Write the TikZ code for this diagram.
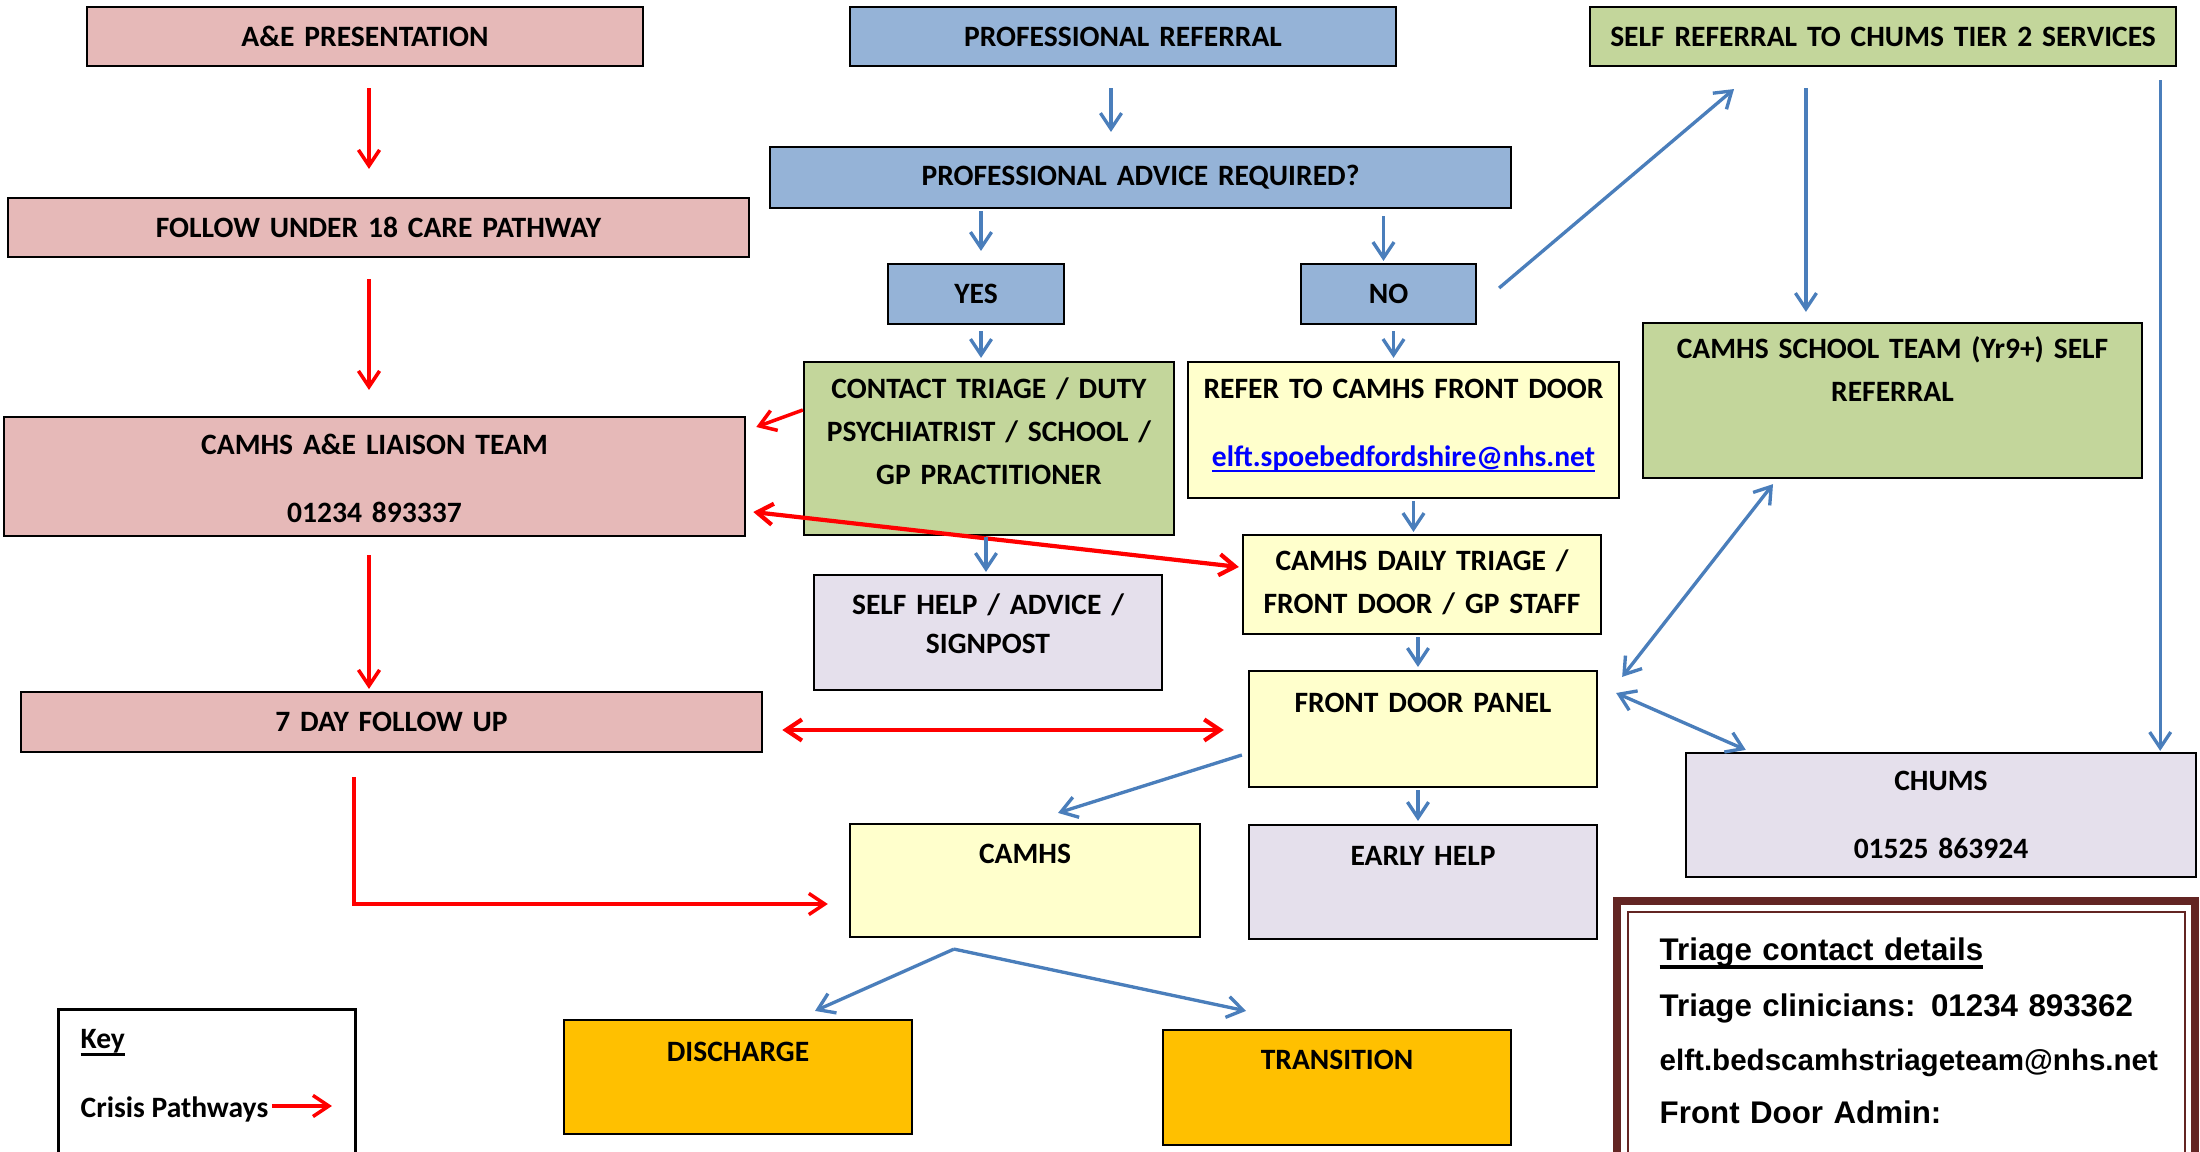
\documentclass[tikz,border=0pt]{standalone}
\usepackage{fontspec}
\setmainfont{Carlito}
\newfontfamily\arialfont{Liberation Sans}
\usetikzlibrary{arrows.meta}
\definecolor{aepink}{HTML}{E6B9B8}
\definecolor{refblue}{HTML}{95B3D7}
\definecolor{selfgreen}{HTML}{C3D69B}
\definecolor{doorcream}{HTML}{FFFFCC}
\definecolor{helplilac}{HTML}{E5E0EC}
\definecolor{outamber}{HTML}{FFC000}
\definecolor{arrowblue}{HTML}{4A7EBB}
\definecolor{framered}{HTML}{632523}
\definecolor{linkblue}{HTML}{0000FF}
\tikzstyle{pathbox}=[rectangle, draw=black, line width=0.6pt, inner xsep=0pt, inner ysep=0pt, align=center, font=\bfseries\fontsize{8.4}{12.2}\selectfont]
\tikzstyle{bluearrow}=[draw=arrowblue, line width=0.95pt]
\tikzstyle{crisis}=[draw=red, line width=1pt]
\newcommand{\pathbox}{\node[pathbox]}
% underline with a given drop and thickness
\newcommand{\barunder}[3]{\leavevmode\setbox0\hbox{#3}\rlap{\rule[#1]{\wd0}{#2}}\box0}

\begin{document}
\begin{tikzpicture}[x=0.01cm, y=-0.01cm, >={Straight Barb[length=4.5pt,width=6pt]}]
\useasboundingbox (0,0) rectangle (2200,1152);
% top row
\pathbox[fill=aepink, text width=5.56cm, minimum height=0.59cm] (ae) at (365,36.5) {A\&E PRESENTATION};
\pathbox[fill=refblue, text width=5.46cm, minimum height=0.59cm] (profref) at (1123,36.5) {PROFESSIONAL REFERRAL};
\pathbox[fill=selfgreen, text width=5.86cm, minimum height=0.59cm] (selfref) at (1883,36.5) {SELF REFERRAL TO CHUMS TIER 2 SERVICES};
\pathbox[fill=refblue, text width=7.41cm, minimum height=0.61cm] (advice) at (1140.5,177.5) {PROFESSIONAL ADVICE REQUIRED?};
\pathbox[fill=aepink, text width=7.41cm, minimum height=0.59cm] (follow) at (378.5,227.5) {FOLLOW UNDER 18 CARE PATHWAY};
\pathbox[fill=refblue, text width=1.76cm, minimum height=0.60cm] (yes) at (976,294) {YES};
\pathbox[fill=refblue, text width=1.75cm, minimum height=0.60cm] (no) at (1388.5,294) {NO};
% middle
\pathbox[fill=selfgreen, text width=3.70cm, text height=0.365cm, text depth=1.365cm] (contact) at (989,448.5)
  {CONTACT TRIAGE / DUTY\\PSYCHIATRIST / SCHOOL /\\GP PRACTITIONER};
\pathbox[fill=doorcream, text width=4.31cm, text height=0.365cm, text depth=0.995cm] (refer) at (1403.5,430)
  {REFER TO CAMHS FRONT DOOR\\[7pt]{\color{linkblue}\barunder{-1.6pt}{0.6pt}{elft.spoebedfordshire@nhs.net}}};
\pathbox[fill=selfgreen, text width=4.99cm, text height=0.355cm, text depth=1.195cm] (school) at (1892.5,400.5)
  {CAMHS SCHOOL TEAM (Yr9+) SELF\\REFERRAL};
\pathbox[fill=aepink, text width=7.41cm, text height=0.375cm, text depth=0.815cm] (liaison) at (374.5,476.5)
  {CAMHS A\&E LIAISON TEAM\\[7pt]01234 893337};
\pathbox[fill=helplilac, text width=3.48cm, text height=0.395cm, text depth=0.755cm] (selfhelp) at (988,632.5)
  {SELF HELP / ADVICE /\\[-1pt]SIGNPOST};
\pathbox[fill=doorcream, text width=3.58cm, text height=0.355cm, text depth=0.635cm] (daily) at (1422,584.5)
  {CAMHS DAILY TRIAGE /\\FRONT DOOR / GP STAFF};
\pathbox[fill=aepink, text width=7.41cm, minimum height=0.60cm] (sevenday) at (391.5,722) {7 DAY FOLLOW UP};
\pathbox[fill=doorcream, text width=3.48cm, text height=0.415cm, text depth=0.745cm] (fdp) at (1423,729) {FRONT DOOR PANEL};
\pathbox[fill=helplilac, text width=5.10cm, text height=0.375cm, text depth=0.865cm] (chums) at (1941,815)
  {CHUMS\\[7pt]01525 863924};
% bottom
\pathbox[fill=doorcream, text width=3.50cm, text height=0.40cm, text depth=0.73cm] (camhs) at (1025,880.5) {CAMHS};
\pathbox[fill=helplilac, text width=3.48cm, text height=0.405cm, text depth=0.735cm] (early) at (1423,882) {EARLY HELP};
\pathbox[fill=outamber, text width=3.48cm, text height=0.415cm, text depth=0.725cm] (discharge) at (738,1077) {DISCHARGE};
\pathbox[fill=outamber, text width=3.48cm, text height=0.40cm, text depth=0.75cm] (transition) at (1337,1087.5) {TRANSITION};

% key
\node[draw, line width=0.85pt, minimum width=2.97cm, minimum height=2cm, anchor=north west] (keybox) at (57,1008) {};
\node[anchor=base west, inner sep=0pt, font=\bfseries\fontsize{8.4}{12.2}\selectfont] (keytitle) at (80,1048) {\barunder{-2.2pt}{0.9pt}{Key}};
\node[anchor=base west, inner sep=0pt, font=\bfseries\fontsize{8.4}{12.2}\selectfont] (crisiskey) at (80,1117) {Crisis Pathways};
\draw[crisis,->] ([shift={(3,-3)}]crisiskey.east) -- ++(60,0);

% triage contact details
\draw[framered, line width=2.3pt] (1617,901) rectangle (2195,1200);
\draw[framered, line width=0.6pt] (1628,912) rectangle (2185,1200);
\node[anchor=base west, inner sep=0pt, text width=5.2cm, align=left, font=\arialfont\bfseries\fontsize{8.9}{15.2}\selectfont] (triage) at (1659,960)
  {\barunder{-2.6pt}{1.1pt}{Triage contact details}\\[1pt]
   Triage clinicians: 01234 893362\\
   {\fontsize{8.4}{15.2}\selectfont elft.bedscamhstriageteam@nhs.net}\\
   Front Door Admin:};

% crisis pathways
\draw[crisis,->,shorten <=0.21cm,shorten >=0.28cm] ([xshift=0.04cm]ae.south) -- ([xshift=0.04cm]ae.south |- follow.north);
\draw[crisis,->,shorten <=0.21cm,shorten >=0.26cm] ([xshift=0.04cm]ae.south |- follow.south) -- ([xshift=0.04cm]ae.south |- liaison.north);
\draw[crisis,->,shorten <=0.18cm,shorten >=0.02cm] ([xshift=0.04cm]ae.south |- liaison.south) -- ([xshift=0.04cm]ae.south |- sevenday.north);
\draw[crisis,->] ([shift={(-37.5,24)}]sevenday.south) |- ([shift={(-21,23.5)}]camhs.west);
\draw[crisis,->] ([shift={(0,-38.5)}]contact.west) -- ([shift={(10,-49.5)}]liaison.east);
\draw[crisis,<->,line width=1.2pt] ([shift={(7,35.5)}]liaison.east) -- ([shift={(-3,-17.5)}]daily.west);
\draw[crisis,<->,line width=1.2pt] ([shift={(19,8)}]sevenday.east) -- ([shift={(-24,1)}]fdp.west);

% referral flow
\draw[bluearrow,->,shorten <=0.21cm,shorten >=0.14cm] ([xshift=-0.12cm]profref.south) -- ([xshift=-0.12cm]profref.south |- advice.north);
\draw[bluearrow,->,shorten <=0.02cm,shorten >=0.12cm] ([xshift=0.05cm]yes.north |- advice.south) -- ([xshift=0.05cm]yes.north);
\draw[bluearrow,->,shorten <=0.07cm,shorten >=0.02cm] ([xshift=-0.05cm]no.north |- advice.south) -- ([xshift=-0.05cm]no.north);
\draw[bluearrow,->,shorten <=0.06cm,shorten >=0.03cm] ([xshift=0.05cm]yes.south) -- ([xshift=0.05cm]yes.south |- contact.north);
\draw[bluearrow,->,shorten <=0.06cm,shorten >=0.03cm] ([xshift=0.05cm]no.south) -- ([xshift=0.05cm]no.south |- refer.north);
\draw[bluearrow,->] ([shift={(22,-6)}]no.east) -- ([shift={(-149,22)}]selfref.south);
\draw[bluearrow,->,shorten <=0.21cm,shorten >=0.10cm] ([xshift=-0.865cm]school.north |- selfref.south) -- ([xshift=-0.865cm]school.north);
\draw[bluearrow,->,shorten <=0.13cm,shorten >=0.01cm] ([xshift=-0.37cm]chums.north east |- selfref.south) -- ([xshift=-0.37cm]chums.north east);
\draw[bluearrow,->,shorten <=0.01cm,shorten >=0.02cm] ([xshift=-0.03cm]contact.south) -- ([xshift=-0.03cm]contact.south |- selfhelp.north);
\draw[bluearrow,->,shorten <=0.02cm,shorten >=0.02cm] ([xshift=0.1cm]refer.south) -- ([xshift=0.1cm]refer.south |- daily.north);
\draw[bluearrow,->,shorten <=0.02cm,shorten >=0.03cm] ([xshift=-0.04cm]daily.south) -- ([xshift=-0.04cm]daily.south |- fdp.north);
\draw[bluearrow,<->] ([shift={(-119.5,5)}]school.south) -- ([shift={(24,7)}]fdp.north east);
\draw[bluearrow,<->] ([shift={(18,-36)}]fdp.east) -- ([shift={(61,-2)}]chums.north west);
\draw[bluearrow,->] ([shift={(-6,26)}]fdp.west) -- ([shift={(33,-10)}]camhs.north);
\draw[bluearrow,->,shorten <=0.02cm,shorten >=0.03cm] ([xshift=-0.05cm]fdp.south) -- ([xshift=-0.05cm]early.north);
\draw[bluearrow,->] ([shift={(-71,11)}]camhs.south) -- ([shift={(77,-8)}]discharge.north);
\draw[bluearrow,->] ([shift={(-71,11)}]camhs.south) -- ([shift={(-91,-18)}]transition.north);
\end{tikzpicture}
\end{document}
